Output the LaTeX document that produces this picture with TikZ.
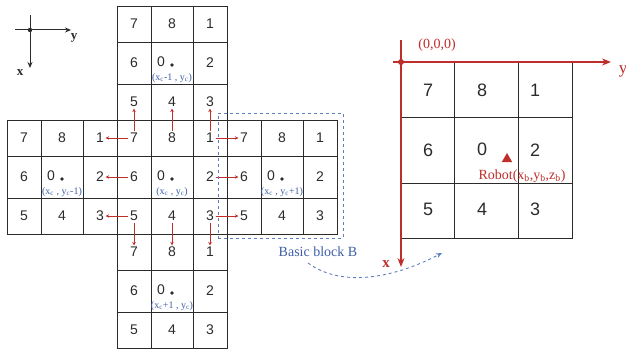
\documentclass[tikz,border=0pt]{standalone}
\usepackage{fontspec}
\setmainfont{Liberation Serif}
\setsansfont{Liberation Sans}
\usepackage{tikz}
\usetikzlibrary{arrows.meta,calc,positioning,shapes.geometric}
\definecolor{Ink}{HTML}{2B2B2B}
\definecolor{AxisRed}{HTML}{BE2E2A}
\definecolor{LabelBlue}{HTML}{3E5FA8}
\definecolor{DashBlue}{HTML}{5B7FC0}
\tikzset{
  gridline/.style={draw=Ink, line width=0.8pt},
  num/.style={font=\sffamily\fontsize{14}{14}\selectfont, text=Ink, inner sep=1.5pt},
  bignum/.style={font=\sffamily\fontsize{18}{18}\selectfont, text=Ink, inner sep=1.5pt},
  coordlbl/.style={font=\fontsize{10}{10}\selectfont, text=LabelBlue, inner sep=0pt},
  moveto/.style={draw=AxisRed, line width=0.7pt, -{Stealth[length=3.5pt,width=3.5pt]}},
  axisline/.style={draw=Ink, line width=1pt, -{Stealth[length=6pt,width=5pt]}},
  redaxis/.style={draw=AxisRed, line width=1.4pt, -{Stealth[length=9pt,width=7pt]}}
}
% one 3x3 block: name, left, top, label of the centre cell
\newcommand{\cellblock}[4]{%
  \draw[gridline] (#2,#3) rectangle ++(110,114);
  \draw[gridline] ({#2+34},#3) -- ++(0,114) ({#2+76},#3) -- ++(0,114)
    (#2,{#3+36}) -- ++(110,0) (#2,{#3+78}) -- ++(110,0);
  \foreach \n/\cx/\cy in {7/17/18, 8/55/18, 1/93/18, 6/17/57, 2/93/57, 5/17/96, 4/55/96, 3/93/96}
    \node[num] (#1-\n) at ({#2+\cx},{#3+\cy}) {\n};
  \node[num] (#1-0) at ({#2+44},{#3+56}) {0};
  \fill[Ink] ({#2+55},{#3+59}) circle (1.8);
  \node[coordlbl] (#1-xy) at ({#2+55},{#3+72}) {#4};
}

\begin{document}
\begin{tikzpicture}[x=1pt,y=-1pt]
  \useasboundingbox (0,0) rectangle (626,350);

  % frame in the corner
  \coordinate (o) at (30,30);
  \coordinate (ystart) at (15,30);
  \coordinate (xstart) at (30,15);
  \coordinate (yend) at (71,30);
  \coordinate (xend) at (30,68);
  \draw[axisline] (ystart) -- (yend);
  \draw[axisline] (xstart) -- (xend);
  \fill[Ink] (o) circle (2.2);
  \node[font=\bfseries\fontsize{13}{13}\selectfont, text=Ink] (ylbl) at (74,38) {y};
  \node[font=\bfseries\fontsize{13}{13}\selectfont, text=Ink] (xlbl) at (20,73) {x};

  % the five blocks
  \cellblock{T}{117}{6}{(x\textsubscript{c}-1 , y\textsubscript{c})}
  \cellblock{L}{7}{120}{(x\textsubscript{c} , y\textsubscript{c}-1)}
  \cellblock{C}{117}{120}{(x\textsubscript{c} , y\textsubscript{c})}
  \cellblock{R}{227}{120}{(x\textsubscript{c} , y\textsubscript{c}+1)}
  \cellblock{B}{117}{234}{(x\textsubscript{c}+1 , y\textsubscript{c})}

  % moves out of the centre block
  \draw[moveto] (C-7) -- (T-5);
  \draw[moveto] (C-8) -- (T-4);
  \draw[moveto] (C-1) -- (T-3);
  \draw[moveto] (C-7) -- (L-1);
  \draw[moveto] (C-6) -- (L-2);
  \draw[moveto] (C-5) -- (L-3);
  \draw[moveto] (C-1) -- (R-7);
  \draw[moveto] (C-2) -- (R-6);
  \draw[moveto] (C-3) -- (R-5);
  \draw[moveto] (C-5) -- (B-7);
  \draw[moveto] (C-4) -- (B-8);
  \draw[moveto] (C-3) -- (B-1);

  % basic block
  \node[draw=DashBlue, dashed, line width=0.9pt, minimum width=125pt, minimum height=125pt] (basic) at (280.5,175.5) {};
  \node[font=\fontsize{14}{14}\selectfont, text=LabelBlue] (basiclbl) at (318,252) {Basic block B};

  % enlarged block
  \draw[gridline] (401,62) rectangle (572,238);
  \draw[gridline] (454,62) -- (454,238) (518,62) -- (518,238)
    (401,117) -- (572,117) (401,183) -- (572,183);
  \foreach \n/\cx/\cy in {7/428/90, 8/482/90, 1/535/90, 6/428/150, 0/482/149, 2/535/150, 5/428/209, 4/482/209, 3/535/209}
    \node[bignum] (big-\n) at (\cx,\cy) {\n};
  \node[regular polygon, regular polygon sides=3, fill=AxisRed, inner sep=0pt, minimum size=12pt] (robot) at (507,159) {};
  \node[font=\fontsize{14}{14}\selectfont, text=AxisRed, inner sep=0pt] (robotlbl) at (522,176) {Robot(x\textsubscript{b},y\textsubscript{b},z\textsubscript{b})};

  % red axes of the block
  \coordinate (origin) at (401,62);
  \coordinate (yaxisstart) at (393,62);
  \coordinate (yaxisend) at (611,62);
  \coordinate (xaxisstart) at (401,40);
  \coordinate (xaxisend) at (401,267);
  \draw[redaxis] (yaxisstart) -- (yaxisend);
  \draw[redaxis] (xaxisstart) -- (xaxisend);
  \fill[AxisRed] (origin) circle (3);
  \node[font=\fontsize{14}{14}\selectfont, text=AxisRed] (origlbl) at (437,45) {(0,0,0)};
  \node[font=\fontsize{17}{17}\selectfont, text=AxisRed] (yaxislbl) at (623,71) {y};
  \node[font=\bfseries\fontsize{15}{15}\selectfont, text=AxisRed] (xaxislbl) at (386,264) {x};

  % block is copied across
  \coordinate (copyfrom) at (308,263);
  \coordinate (copyto) at (442,253);
  \draw[draw=DashBlue, dashed, line width=0.9pt, -{Stealth[length=6pt,width=5pt,open]}]
    (copyfrom) .. controls (345,290) and (400,275) .. (copyto);
\end{tikzpicture}
\end{document}
